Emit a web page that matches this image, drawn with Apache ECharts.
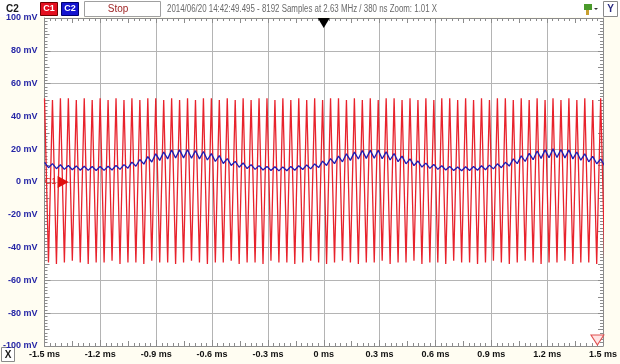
<!DOCTYPE html>
<html>
<head>
<meta charset="utf-8">
<script src="https://cdn.jsdelivr.net/npm/echarts@6/dist/echarts.min.js"></script>
<style>
html,body{margin:0;padding:0;background:#fffdf2;}
#chart{width:620px;height:364px;}
</style>
</head>
<body>
<div id="chart"></div>
<script>
// Time base of the decimated trace (one point per half cycle of C1)
const startTime = -1.5;      // ms
const sampleStep = 0.02134;  // ms

// C1 (red) channel values, mV
const c1Values = [
 51,-49,50,-50,51,-49,51,-48,50,-49,51,-50,50,-49,51,-49,50,-48,51,-50,
 50,-49,51,-49,50,-50,51,-48,51,-49,50,-49,51,-50,50,-49,51,-48,50,-49,
 51,-50,51,-49,50,-49,51,-48,50,-50,51,-49,50,-49,51,-50,51,-48,50,-49,
 51,-49,50,-50,51,-49,50,-48,51,-49,50,-50,51,-49,51,-48,50,-49,51,-50,
 50,-49,51,-49,50,-48,51,-50,51,-49,50,-49,51,-48,50,-50,51,-49,50,-49,
 51,-50,51,-48,50,-49,51,-49,50,-50,51,-49,50,-48,51,-49,51,-50,50,-49,
 51,-48,50,-49,51,-50,50,-49,51,-49,50,-48,51,-50,50,-49,51,-49,50,-50,
 51,-48
];

// C2 (blue) channel values, mV
const c2Values = [
 12.0,8.7,11.2,8.1,10.5,7.7,10.1,7.5,9.8,7.2,
 9.6,7.1,9.4,7.0,9.5,7.1,9.6,7.3,10.1,7.7,
 10.6,8.4,12.1,9.6,13.7,10.9,15.5,12.2,17.2,13.2,
 18.3,14.1,19.5,14.6,19.6,14.7,19.7,14.5,19.1,14.1,
 18.6,13.4,17.3,12.5,16.1,11.3,14.3,10.1,12.6,9.0,
 11.6,8.2,10.6,7.7,10.0,7.3,9.5,7.0,9.3,6.8,
 9.2,6.9,9.5,7.2,9.9,7.6,10.4,8.0,11.0,8.8,
 12.7,10.1,14.3,11.2,15.8,12.3,17.2,13.2,18.2,14.0,
 19.2,14.4,19.3,14.5,19.4,14.2,18.4,13.4,17.4,12.4,
 15.8,11.1,14.1,10.0,12.8,9.1,11.5,8.3,10.7,7.7,
 9.9,7.3,9.5,7.0,9.2,6.9,9.3,7.0,9.4,7.2,
 9.9,7.5,10.3,8.0,11.1,8.7,12.0,9.7,14.1,11.2,
 16.0,12.5,17.5,13.6,18.9,14.4,19.6,14.8,20.2,15.0,
 19.8,14.7,19.5,14.1,18.3,13.3,17.2,12.3,15.6,11.1,
 14.0,9.9
];

const xTickValues = [-1.5,-1.2,-0.9,-0.6,-0.3,0,0.3,0.6,0.9,1.2,1.5];
const xTickLabels = ['-1.5 ms','-1.2 ms','-0.9 ms','-0.6 ms','-0.3 ms','0 ms','0.3 ms','0.6 ms','0.9 ms','1.2 ms','1.5 ms'];
const yTickValues = [-100,-80,-60,-40,-20,0,20,40,60,80,100];
const yTickLabels = ['-100 mV','-80 mV','-60 mV','-40 mV','-20 mV','0 mV','20 mV','40 mV','60 mV','80 mV','100 mV'];

const headerText = '2014/06/20 14:42:49.495 - 8192 Samples at 2.63 MHz / 380 ns Zoom: 1.01 X';
const c1MarkerAt = [-1.4, 0];

function lookup(vals, labels, v) {
  const i = vals.findIndex(t => Math.abs(t - v) < 1e-6);
  return i >= 0 ? labels[i] : '';
}

const c1Data = c1Values.map((v, i) => [startTime + i * sampleStep, v]);
const c2Data = c2Values.map((v, i) => [startTime + i * sampleStep, v]);

const rulerColor = '#8c8c8c';
const gridColor = '#b4b4b4';
const FONT = '"Liberation Sans", Arial, sans-serif';

const chart = echarts.init(document.getElementById('chart'), null, {renderer: 'canvas'});
const baseGraphic = [
  {type: 'rect', shape: {x: 0, y: 0, width: 620, height: 17}, style: {fill: '#ffffff'}, silent: true},
  {type: 'text', x: 6, y: 9, style: {text: 'C2', font: 'bold 10px ' + FONT, fill: '#1a1a1a', align: 'left', verticalAlign: 'middle', textAlign: 'left', textVerticalAlign: 'middle'}},
  {type: 'rect', shape: {x: 40.5, y: 2.5, width: 17, height: 13}, style: {fill: '#e41020', stroke: '#700000', lineWidth: 1}},
  {type: 'text', x: 49, y: 9, style: {text: 'C1', font: 'bold 9px ' + FONT, fill: '#ffffff', align: 'center', verticalAlign: 'middle', textAlign: 'center', textVerticalAlign: 'middle'}},
  {type: 'rect', shape: {x: 61.5, y: 2.5, width: 17, height: 13}, style: {fill: '#1414d0', stroke: '#000070', lineWidth: 1}},
  {type: 'text', x: 70, y: 9, style: {text: 'C2', font: 'bold 9px ' + FONT, fill: '#ffffff', align: 'center', verticalAlign: 'middle', textAlign: 'center', textVerticalAlign: 'middle'}},
  {type: 'rect', shape: {x: 84.5, y: 1.5, width: 76, height: 15}, style: {fill: '#ffffff', stroke: '#a0a0a0', lineWidth: 1}},
  {type: 'text', x: 118, y: 9, style: {text: 'Stop', font: '10px ' + FONT, fill: '#a02828', align: 'center', verticalAlign: 'middle', textAlign: 'center', textVerticalAlign: 'middle'}},
  {type: 'text', x: 167, y: 9, scaleX: 0.79, style: {text: headerText, font: '10px ' + FONT, fill: '#6a6a6a', align: 'left', verticalAlign: 'middle', textAlign: 'left', textVerticalAlign: 'middle'}},
  {type: 'rect', shape: {x: 584, y: 4, width: 8, height: 6}, style: {fill: '#4a9a2a'}},
  {type: 'rect', shape: {x: 586, y: 10, width: 3, height: 5}, style: {fill: '#c8a030'}},
  {type: 'polygon', shape: {points: [[594, 8], [598, 8], [596, 10]]}, style: {fill: '#333'}},
  {type: 'rect', shape: {x: 603.5, y: 1.5, width: 14, height: 15}, style: {fill: '#ffffff', stroke: '#8a8a8a', lineWidth: 1}},
  {type: 'text', x: 610.5, y: 9, style: {text: 'Y', font: 'bold 10px ' + FONT, fill: '#2a2a80', align: 'center', verticalAlign: 'middle', textAlign: 'center', textVerticalAlign: 'middle'}},
  {type: 'rect', shape: {x: 1.5, y: 347.5, width: 13, height: 14}, style: {fill: '#ffffff', stroke: '#8a8a8a', lineWidth: 1}},
  {type: 'text', x: 8, y: 355, style: {text: 'X', font: 'bold 10px ' + FONT, fill: '#1a1a1a', align: 'center', verticalAlign: 'middle', textAlign: 'center', textVerticalAlign: 'middle'}}
];

chart.setOption({
  animation: false,
  backgroundColor: '#fffdf2',
  grid: {left: 42, right: 16, top: 18, bottom: 18, show: true, backgroundColor: '#ffffff', borderWidth: 0},
  xAxis: [
    {
      type: 'value', min: -1.5, max: 1.5, interval: 0.3, position: 'bottom',
      axisLine: {show: true, onZero: false, lineStyle: {color: rulerColor}},
      axisTick: {show: true, inside: true, length: 6, lineStyle: {color: rulerColor}},
      minorTick: {show: true, splitNumber: 10, length: 3, lineStyle: {color: rulerColor}},
      splitLine: {show: true, lineStyle: {color: gridColor, width: 1}},
      axisLabel: {
        show: true, margin: 4, color: '#111', fontSize: 9, fontWeight: 'bold', fontFamily: FONT,
        showMinLabel: true, showMaxLabel: true,
        formatter: v => lookup(xTickValues, xTickLabels, v)
      }
    },
    {
      type: 'value', min: -1.5, max: 1.5, interval: 0.15, position: 'top',
      axisLine: {show: true, onZero: false, lineStyle: {color: rulerColor}},
      axisTick: {show: true, inside: true, length: 5, lineStyle: {color: rulerColor}},
      minorTick: {show: true, splitNumber: 5, length: 3, lineStyle: {color: rulerColor}},
      splitLine: {show: false}, axisLabel: {show: false}
    },
    {
      type: 'value', min: -1.5, max: 1.5, interval: 0.15, position: 'bottom',
      axisLine: {show: false, onZero: false},
      axisTick: {show: true, inside: true, length: 5, lineStyle: {color: rulerColor}},
      splitLine: {show: false}, axisLabel: {show: false}
    }
  ],
  yAxis: [
    {
      type: 'value', min: -100, max: 100, interval: 20, position: 'left',
      axisLine: {show: true, onZero: false, lineStyle: {color: rulerColor}},
      axisTick: {show: true, inside: true, length: 6, lineStyle: {color: rulerColor}},
      minorTick: {show: true, splitNumber: 10, length: 3, lineStyle: {color: rulerColor}},
      splitLine: {show: true, lineStyle: {color: gridColor, width: 1}},
      axisLabel: {
        show: true, margin: 7, color: '#2626a6', fontSize: 9, fontWeight: 'bold', fontFamily: FONT,
        showMinLabel: true, showMaxLabel: true,
        formatter: v => lookup(yTickValues, yTickLabels, v)
      }
    },
    {
      type: 'value', min: -100, max: 100, interval: 10, position: 'right',
      axisLine: {show: true, onZero: false, lineStyle: {color: rulerColor}},
      axisTick: {show: true, inside: true, length: 5, lineStyle: {color: rulerColor}},
      minorTick: {show: true, splitNumber: 5, length: 3, lineStyle: {color: rulerColor}},
      splitLine: {show: false}, axisLabel: {show: false}
    },
    {
      type: 'value', min: -100, max: 100, interval: 10, position: 'left',
      axisLine: {show: false, onZero: false},
      axisTick: {show: true, inside: true, length: 5, lineStyle: {color: rulerColor}},
      splitLine: {show: false}, axisLabel: {show: false}
    }
  ],
  series: [
    {
      name: 'C1', type: 'line', xAxisIndex: 0, yAxisIndex: 0, data: c1Data,
      symbol: 'none', clip: true, lineStyle: {color: '#e8222c', width: 1.3},
      markPoint: {
        animation: false,
        label: {show: false},
        data: [
          {coord: c1MarkerAt, symbol: 'triangle', symbolSize: [12, 11], symbolRotate: -90,
           itemStyle: {color: '#e01010'}},
          {coord: [1.47, -100], symbol: 'triangle', symbolSize: [13, 10], symbolRotate: 180, symbolOffset: [0, -6],
           itemStyle: {color: '#ffe4e4', borderColor: '#e05050', borderWidth: 1}}
        ]
      }
    },
    {
      name: 'C2', type: 'line', xAxisIndex: 0, yAxisIndex: 0, data: c2Data,
      symbol: 'none', clip: true, lineStyle: {color: '#1c1cb4', width: 1.3},
      markPoint: {
        animation: false,
        label: {show: false},
        data: [
          {coord: [0, 100], symbol: 'triangle', symbolSize: [12, 10], symbolRotate: 180, symbolOffset: [0, 5],
           itemStyle: {color: '#000'}}
        ]
      }
    }
  ],
  graphic: baseGraphic
});

// "C1" channel tag placed just left of the C1 offset marker
const p = chart.convertToPixel({xAxisIndex: 0, yAxisIndex: 0}, c1MarkerAt);
chart.setOption({
  graphic: baseGraphic.concat([
    {type: 'text', x: p[0] - 7, y: p[1], z: 100,
     style: {text: 'C1', font: '9px ' + FONT, fill: '#d82020', align: 'right', verticalAlign: 'middle', textAlign: 'right', textVerticalAlign: 'middle'}}
  ])
});
</script>
</body>
</html>
